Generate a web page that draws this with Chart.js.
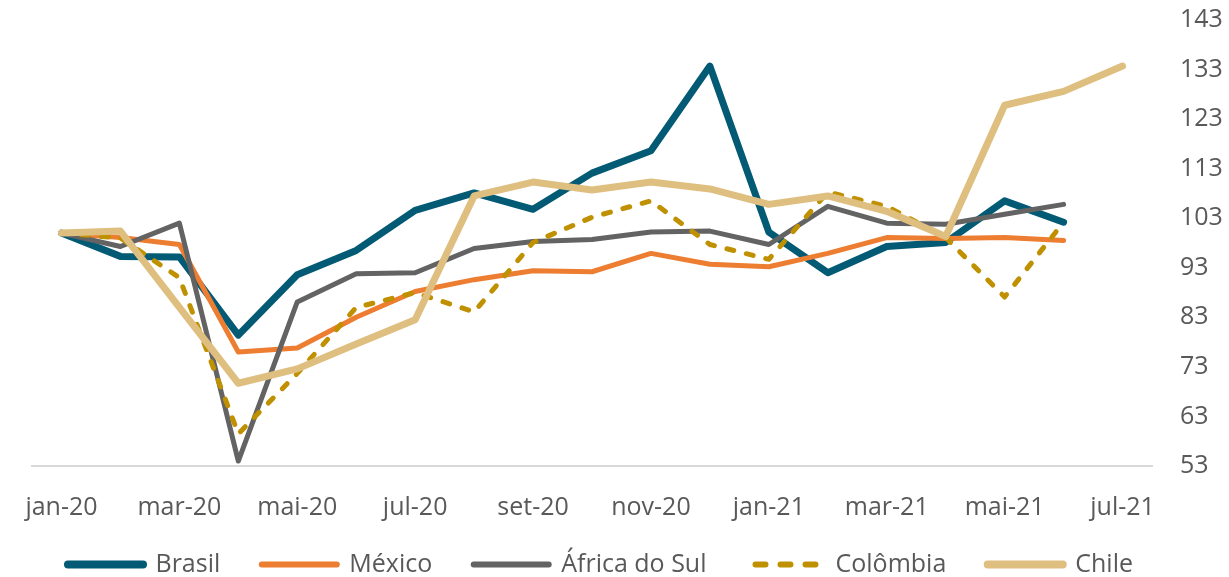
<!DOCTYPE html>
<html>
<head>
<meta charset="utf-8">
<script src="https://cdn.jsdelivr.net/npm/chart.js@4"></script>
<style>
  html, body { margin: 0; padding: 0; background: #fff; }
  #wrap { width: 1229px; height: 577px; }
</style>
</head>
<body>
<div id="wrap"><canvas id="myChart"></canvas></div>
<script>
const months = ['jan-20', 'fev-20', 'mar-20', 'abr-20', 'mai-20', 'jun-20', 'jul-20', 'ago-20', 'set-20', 'out-20',
  'nov-20', 'dez-20', 'jan-21', 'fev-21', 'mar-21', 'abr-21', 'mai-21', 'jun-21', 'jul-21'];

const brasil = [100, 95.3, 95.2, 79.4, 91.6, 96.5, 104.6, 108.1, 104.8, 112.1, 116.6, 133.7, 100.2, 92, 97.3, 98.1, 106.5, 102.2, null];
const mexico = [100, 99.1, 97.7, 76, 76.8, 83, 88.2, 90.6, 92.4, 92.2, 95.9, 93.7, 93.2, 95.9, 99.1, 98.9, 99.1, 98.5, null];
const africaDoSul = [100, 97.3, 102, 54, 86.1, 91.8, 92, 96.9, 98.3, 98.7, 100.2, 100.4, 97.7, 105.4, 102, 101.8, 103.8, 105.8, null];
const colombia = [100, 99, 91, 59.5, 71.7, 85, 88, 84.1, 98.1, 103.2, 106.5, 97.7, 94.7, 108.3, 105.4, 99.1, 87.1, 102.2, null];
const chile = [100, 100.4, 85, 69.7, 72.6, 77.6, 82.5, 107.5, 110.3, 108.7, 110.3, 108.9, 105.8, 107.5, 104.4, 99.3, 125.8, 128.6, 133.7];

const yMin = 53, yMax = 143, yStep = 10;

const font = "'Open Sans', 'Noto Sans', sans-serif";
const textColor = '#595959';

function serie(label, data, color, width, order, dash) {
  return {
    label: label,
    data: data,
    borderColor: color,
    backgroundColor: color,
    borderWidth: width,
    borderDash: dash || [],
    borderCapStyle: 'round',
    borderJoinStyle: 'round',
    pointRadius: 0,
    pointHoverRadius: 0,
    tension: 0,
    fill: false,
    order: order
  };
}

// legenda mais baixa e centrada sob a área do gráfico
const legendFix = {
  id: 'legendFix',
  beforeInit(chart) {
    const fit = chart.legend.fit;
    chart.legend.fit = function () {
      fit.bind(chart.legend)();
      this.height = 35;
    };
  },
  afterLayout(chart) {
    chart.legend.left -= 30;
    chart.legend.right -= 30;
  }
};

const ctx = document.getElementById('myChart');

new Chart(ctx, {
  type: 'line',
  data: {
    labels: months,
    datasets: [
      serie('Brasil', brasil, '#035A74', 7, 4),
      serie('México', mexico, '#ED7D31', 5, 3),
      serie('África do Sul', africaDoSul, '#636363', 5, 2),
      serie('Colômbia', colombia, '#BF9000', 5, 1, [7, 13]),
      serie('Chile', chile, '#DFBF80', 7, 0)
    ]
  },
  options: {
    responsive: true,
    maintainAspectRatio: false,
    animation: false,
    layout: { padding: { left: 32, top: 0, right: 0, bottom: 0 } },
    plugins: {
      tooltip: { enabled: false },
      legend: {
        position: 'bottom',
        labels: {
          usePointStyle: true,
          pointStyle: 'line',
          pointStyleWidth: 75,
          boxHeight: 25,
          padding: 10,
          color: textColor,
          font: { family: font, size: 25 },
          sort: (a, b) => a.datasetIndex - b.datasetIndex,
          generateLabels: function (chart) {
            const items = Chart.defaults.plugins.legend.labels.generateLabels(chart);
            return items.map((it) => {
              const ds = chart.data.datasets[it.datasetIndex];
              it.lineWidth = ds.borderWidth + 1;
              it.strokeStyle = ds.borderColor;
              it.lineCap = 'round';
              it.lineDash = ds.borderDash.length ? [10, 15] : [];
              it.lineDashOffset = ds.borderDash.length ? 17.5 : 0;
              if (it.datasetIndex < chart.data.datasets.length - 1) it.text = it.text + '\u2002\u2002 ';
              return it;
            });
          }
        }
      }
    },
    scales: {
      x: {
        offset: true,
        grid: { display: false, drawTicks: false },
        border: { display: true, color: '#D9D9D9', width: 2 },
        ticks: {
          autoSkip: false,
          maxRotation: 0,
          padding: 27,
          color: textColor,
          font: { family: font, size: 25 },
          callback: function (v, i) { return i % 2 === 0 ? months[i] : ''; }
        },
        afterFit: function (scale) {
          scale.height -= 8;
          scale.paddingLeft = 0;
          scale.paddingRight = 0;
        }
      },
      y: {
        position: 'right',
        min: yMin,
        max: yMax,
        grid: { display: false, drawTicks: false },
        border: { display: false },
        ticks: {
          stepSize: yStep,
          padding: 28,
          color: textColor,
          font: { family: font, size: 25 }
        },
        afterFit: function (scale) {
          scale.width = 77;
          scale.paddingTop = 20;
          scale.paddingBottom = 0;
        }
      }
    }
  },
  plugins: [legendFix]
});
</script>
</body>
</html>
